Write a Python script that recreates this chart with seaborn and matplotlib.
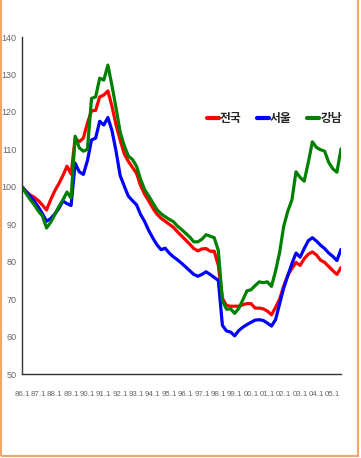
import numpy as np
import pandas as pd
import seaborn as sns
import matplotlib.pyplot as plt
from matplotlib.patches import Rectangle

# quarterly housing price index (86.1 = 100)
jeonguk = [100, 98.8, 97.8, 97.2, 96.3, 95.1, 93.8, 96.5, 98.9, 100.8, 103, 105.5, 103.4,
           113, 112, 113, 117, 120.3, 120.4, 124, 124.5, 125.6, 121.5, 116.5, 112.5,
           108.8, 106.8, 105.2, 103.6, 100.3, 98, 96.2, 94.3, 92.7, 91.6, 90.8, 90,
           89.2, 88, 86.9, 85.8, 84.7, 83.5, 82.9, 83.4, 83.5, 82.8, 82.8, 79,
           70.2, 68.3, 68.1, 68.1, 68.1, 68.5, 68.8, 68.8, 67.6, 67.6, 67.4, 66.8,
           65.8, 67.8, 70, 73.5, 76.4, 78.2, 79.8, 79, 80.8, 82, 82.6, 81.8,
           80.4, 79.8, 78.7, 77.6, 76.6, 78.4]
seoul = [100, 98.7, 97.5, 96.2, 94.6, 92.8, 90.8, 91.5, 92.7, 94.2, 96.2, 95.5, 95,
         106.3, 104, 103.3, 107, 112.5, 113, 117.5, 116.5, 118.5, 115, 109.5, 103,
         100.2, 97.5, 96.3, 95.2, 92.6, 90.7, 88.3, 86.3, 84.5, 83.2, 83.6, 82.3,
         81.3, 80.5, 79.6, 78.6, 77.6, 76.6, 76.1, 76.6, 77.3, 76.6, 75.8, 75,
         63, 61.5, 61.2, 60.2, 61.6, 62.5, 63.2, 63.8, 64.4, 64.5, 64.3, 63.6,
         62.8, 64.5, 68.8, 73, 76.3, 79.5, 82.3, 81.2, 83.5, 85.6, 86.4, 85.5,
         84.4, 83.5, 82.3, 81.4, 80.3, 83.3]
gangnam = [100, 98.2, 96.6, 95.2, 93.5, 92.2, 89, 90.5, 92.5, 94.7, 96.5, 98.6, 97,
           113.5, 110.4, 109.5, 110, 123.6, 124, 129, 128.5, 132.5, 127, 121, 114.6,
           111, 108.2, 107.3, 105.5, 102, 99.2, 97.5, 95.7, 93.9, 92.8, 92, 91.3,
           90.7, 89.5, 88.6, 87.6, 86.6, 85.3, 85.3, 86, 87.2, 86.8, 86.4, 83,
           69.6, 67.3, 67.4, 66.2, 67.5, 69.8, 72.2, 72.5, 73.6, 74.6, 74.4, 74.6,
           73.4, 77.5, 82.5, 89.5, 93.5, 96.5, 104, 102.5, 101.5, 106.5, 112, 110.5,
           109.9, 109.5, 106.5, 104.8, 103.9, 110.1]

regions = ["전국", "서울", "강남"]
colors = ["#ff0000", "#0000ff", "#008000"]
tick_years = list(range(1986, 2006))
tick_labels = ["86.1", "87.1", "88.1", "89.1", "90.1", "91.1", "92.1", "93.1", "94.1", "95.1",
               "96.1", "97.1", "98.1", "99.1", "00.1", "01.1", "02.1", "03.1", "04.1", "05.1"]

period = 1986 + np.arange(len(jeonguk)) * 0.25
df = pd.DataFrame({
    "period": np.tile(period, 3),
    "index": jeonguk + seoul + gangnam,
    "region": np.repeat(regions, len(period)),
})

sns.set_style("white")
plt.rcParams["font.family"] = ["Liberation Sans", "DejaVu Sans"]

fig = plt.figure(figsize=(3.61, 4.58), dpi=100)
ax = fig.add_axes([22 / 361, 1 - 374 / 458, 319 / 361, 337 / 458])

sns.lineplot(data=df, x="period", y="index", hue="region", hue_order=regions,
             palette=dict(zip(regions, colors)), linewidth=2.3, ax=ax)

ax.set_xlim(1986, 2005.5)
ax.set_ylim(50, 140)
ax.set_xticks(tick_years)
ax.set_xticklabels(tick_labels)
ax.set_yticks(range(50, 141, 10))
ax.set_xlabel("")
ax.set_ylabel("")

for side in ["top", "right"]:
    ax.spines[side].set_visible(False)
for side in ["left", "bottom"]:
    ax.spines[side].set_color("#333333")
    ax.spines[side].set_linewidth(1)

ax.tick_params(axis="x", direction="in", length=4, width=1, color="#333333",
               labelsize=5.7, labelcolor="#666666", pad=12)
ax.tick_params(axis="y", direction="out", length=2, width=1, color="#333333",
               labelsize=6.5, labelcolor="#666666", pad=2)

handles, labels = ax.get_legend_handles_labels()
for h in handles:
    h.set_linewidth(3)
ax.legend(handles, labels, ncol=3, frameon=False, loc="center left",
          bbox_to_anchor=(0.58, 0.757), borderaxespad=0, borderpad=0,
          handlelength=1.0, handletextpad=0.1, columnspacing=1.3,
          prop=dict(family="Noto Sans CJK KR", size=8.5, weight="bold"))

# light orange frame around the picture
fig.patches.append(Rectangle((1 / 361, 2 / 458), 357 / 361, 1.5, transform=fig.transFigure,
                             fill=False, edgecolor="#f0a868", linewidth=1.5, clip_on=False))

fig.savefig("out.png", dpi=100)
